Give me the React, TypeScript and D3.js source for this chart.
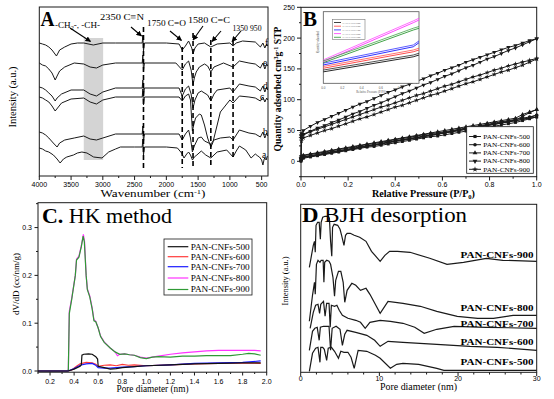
import React from 'react';
import * as d3 from 'd3';

const SERIF = '"Liberation Serif","Times New Roman",serif';
const SANS = '"Liberation Sans",Arial,sans-serif';
const INK = '#1a1a1a';

// ---------------- Panel A : FTIR ----------------
const ftirNames = ['a', 'b', 'c', 'd', 'e', 'f'];
const ftirXTicks = [4000, 3500, 3000, 2500, 2000, 1500, 1000, 500];
const ftirPeaks = [2360, 1750, 1580, 1300, 950];
const ftirA = [[4000,28],[3950,27],[3900,25],[3850,24],[3778,21],[3720,17],[3672,13],[3620,17],[3567,19],[3462,21],[3400,23],[3330,24],[3250,23],[3145,19],[3013,18],[2908,24],[2800,27],[2723,29],[2500,29],[2380,29],[2370,37],[2360,21],[2345,29],[2000,29],[1826,28],[1760,23],[1722,18],[1680,22],[1650,24],[1620,21],[1589,16],[1560,19],[1520,21],[1450,25],[1380,21],[1300,18],[1200,24],[1050,26],[950,19],[900,25],[850,30],[750,26],[666,18],[600,22],[560,20],[535,19],[500,16],[480,11],[460,17],[450,18],[429,16],[410,20]];
const ftirB = [[4000,44],[3950,43],[3900,41],[3850,38],[3780,33],[3720,29],[3680,33],[3600,36],[3450,38],[3300,40],[3200,37],[3100,36],[3000,38],[2800,42],[2380,42],[2370,50],[2360,34],[2345,42],[1800,42],[1750,36],[1700,42],[1650,46],[1620,38],[1590,24],[1560,30],[1500,38],[1450,39],[1400,35],[1300,32],[1250,36],[1150,38],[1000,39],[950,36],[850,46],[700,43],[600,42],[520,39],[480,44],[450,38],[420,43],[405,40]];
const ftirC = [[4000,79],[3950,78],[3900,76],[3850,74],[3800,70],[3750,65],[3700,69],[3650,73],[3500,77],[3300,78],[3200,74],[3100,72],[3000,76],[2800,79],[2380,79],[2370,87],[2360,71],[2345,79],[1800,79],[1750,75],[1700,80],[1650,82],[1620,76],[1590,45],[1570,51],[1540,58],[1480,62],[1450,61],[1400,51],[1350,38],[1300,29],[1270,33],[1200,51],[1150,64],[1050,72],[1000,76],[950,73],[850,80],[700,79],[600,78],[520,75],[480,79],[450,74],[420,78],[405,76]];
const ftirD = [[4000,89],[3950,88],[3900,86],[3850,83],[3800,80],[3750,75],[3720,78],[3650,82],[3500,86],[3300,86],[3200,82],[3100,80],[3000,84],[2800,88],[2380,88],[2370,96],[2360,80],[2345,88],[1800,88],[1750,80],[1700,87],[1650,90],[1610,82],[1580,68],[1550,76],[1500,83],[1450,85],[1350,81],[1300,75],[1250,82],[1200,86],[1000,88],[950,84],[850,92],[700,90],[600,89],[520,85],[480,90],[450,84],[420,89],[405,86]];
const ftirE = [[4000,113],[3950,111],[3900,110],[3850,107],[3800,103],[3750,96],[3720,100],[3680,105],[3600,109],[3450,113],[3300,112],[3200,109],[3100,108],[3000,111],[2800,113],[2380,113],[2370,121],[2360,105],[2345,113],[1850,113],[1750,106],[1700,112],[1650,115],[1610,106],[1580,91],[1560,98],[1530,104],[1480,109],[1400,112],[1350,110],[1300,104],[1250,109],[1100,113],[950,109],[850,115],[700,113],[600,112],[520,108],[480,113],[450,107],[420,112],[405,110]];
const ftirF = [[4000,133],[3950,132],[3900,131],[3850,129],[3800,126],[3730,120],[3680,126],[3600,129],[3500,132],[3400,133],[3300,133],[3150,131],[3000,133],[2800,133],[2380,133],[2370,141],[2360,125],[2345,133],[2000,133],[1800,132],[1750,126],[1700,130],[1650,135],[1600,128],[1580,122],[1550,128],[1500,132],[1400,133],[1300,129],[1200,132],[1000,133],[950,130],[900,133],[800,135],[600,134],[520,129],[480,133],[450,128],[420,132],[405,130]];

// ---------------- Panel B : N2 isotherms ----------------
const bNames = ['PAN-CNFs-500', 'PAN-CNFs-600', 'PAN-CNFs-700', 'PAN-CNFs-800', 'PAN-CNFs-900'];
const bP = [0, 0.002, 0.01, 0.04, 0.07, 0.1, 0.13, 0.16, 0.19, 0.22, 0.25, 0.28, 0.31, 0.34, 0.37, 0.4, 0.43, 0.46, 0.49, 0.52, 0.55, 0.58, 0.61, 0.64, 0.67, 0.7, 0.73, 0.76, 0.79, 0.82, 0.85, 0.88, 0.91, 0.94, 0.97, 1.0];
const b500Ads = [0, 3, 5, 7, 9, 11, 13, 15, 17, 19, 21, 23, 24, 26, 28, 30, 32, 34, 36, 38, 40, 41, 43, 45, 47, 49, 51, 53, 55, 57, 59, 61, 63, 66, 69, 72];
const b500Des = [4, 5, 7, 9, 11, 13, 15, 17, 19, 21, 23, 25, 27, 29, 31, 33, 35, 37, 38, 40, 42, 44, 46, 48, 50, 52, 54, 56, 58, 60, 62, 64, 66, 68, 70, 72];
const b600Ads = [1, 4, 6, 8, 10, 12, 14, 16, 18, 20, 22, 24, 26, 28, 30, 32, 34, 36, 38, 40, 42, 44, 46, 48, 50, 52, 54, 56, 58, 60, 62, 64, 66, 68, 71, 75];
const b600Des = [5, 7, 9, 11, 13, 15, 17, 19, 21, 23, 25, 27, 29, 31, 33, 35, 37, 39, 41, 43, 45, 46, 48, 50, 52, 54, 56, 58, 60, 62, 64, 66, 68, 70, 72, 75];
const b700Ads = [2, 5, 7, 9, 11, 13, 15, 17, 19, 21, 23, 25, 27, 29, 31, 33, 35, 37, 39, 41, 43, 45, 47, 49, 51, 53, 55, 57, 59, 61, 63, 65, 67, 73, 79, 84];
const b700Des = [6, 8, 10, 12, 14, 16, 18, 20, 22, 24, 26, 28, 30, 32, 34, 36, 38, 40, 42, 44, 46, 48, 50, 52, 54, 56, 58, 60, 62, 64, 66, 68, 70, 76, 80, 84];
const b800Ads = [8, 38, 44, 49, 54, 58, 63, 67, 72, 77, 81, 86, 91, 95, 100, 105, 110, 114, 119, 124, 128, 133, 138, 142, 147, 152, 156, 161, 166, 170, 175, 180, 184, 189, 194, 199];
const b800Des = [42, 45, 50, 57, 63, 68, 73, 78, 83, 88, 93, 97, 102, 107, 112, 116, 121, 125, 130, 134, 139, 143, 148, 152, 156, 161, 165, 169, 173, 177, 181, 185, 188, 192, 196, 199];
const b900Ads = [5, 33, 38, 42, 46, 50, 53, 57, 61, 65, 69, 72, 76, 80, 84, 88, 91, 95, 99, 103, 107, 110, 114, 118, 122, 126, 129, 133, 137, 141, 145, 148, 152, 156, 161, 166];
const b900Des = [38, 41, 43, 48, 52, 56, 60, 64, 68, 72, 76, 80, 84, 88, 91, 95, 99, 103, 107, 110, 114, 118, 122, 125, 129, 133, 137, 140, 144, 148, 151, 155, 158, 161, 164, 167];
const bXTicks = [0, 0.2, 0.4, 0.6, 0.8, 1.0];
const bYTicks = [0, 50, 100, 150, 200, 250];
// inset (coloured, zoomed isotherms)
const insetP = [0, 0.94, 1.0];
const inset500 = [16, 37, 39.5];
const inset600 = [21, 44, 46.5];
const inset700 = [25.6, 51, 56.7];
const inset800 = [30.2, 84.6, 88.4];
const inset900 = [28.8, 74.4, 76.8];
const insetXTicks = [0, 0.2, 0.4, 0.6, 0.8];

// ---------------- Panel C : HK method ----------------
const hkNames = ['PAN-CNFs-500', 'PAN-CNFs-600', 'PAN-CNFs-700', 'PAN-CNFs-800', 'PAN-CNFs-900'];
const hkColors = ['#111111', '#ff3a3a', '#1a1aff', '#ff33ff', '#2f9a35'];
const hk500 = [[0.1,0],[0.35,0],[0.4,0.004],[0.45,0.01],[0.46,0.013],[0.465,0.033],[0.48,0.035],[0.52,0.036],[0.55,0.035],[0.58,0.03],[0.595,0.025],[0.6,0.01],[0.65,0.007],[0.7,0.004],[0.75,0.005],[0.8,0.007],[0.9,0.009],[1.0,0.011],[1.2,0.013],[1.4,0.015],[1.6,0.016],[1.8,0.017],[1.95,0.017]];
const hk600 = [[0.1,0],[0.35,0],[0.38,0.002],[0.42,0.01],[0.45,0.015],[0.5,0.018],[0.55,0.017],[0.58,0.014],[0.6,0.01],[0.65,0.012],[0.7,0.013],[0.75,0.011],[0.8,0.014],[0.85,0.012],[0.9,0.013],[1.0,0.011],[1.2,0.013],[1.4,0.015],[1.6,0.016],[1.8,0.017],[1.95,0.016]];
const hk700 = [[0.1,0],[0.35,0],[0.4,0.005],[0.45,0.012],[0.5,0.015],[0.55,0.016],[0.58,0.012],[0.6,0.007],[0.65,0.006],[0.7,0.006],[0.8,0.008],[0.9,0.009],[1.0,0.011],[1.2,0.013],[1.4,0.016],[1.6,0.017],[1.8,0.018],[1.95,0.021]];
const hk800 = [[0.1,0],[0.34,0],[0.352,0.002],[0.36,0.125],[0.38,0.152],[0.41,0.2],[0.42,0.234],[0.44,0.24],[0.46,0.262],[0.477,0.286],[0.487,0.27],[0.5,0.2],[0.51,0.172],[0.53,0.157],[0.55,0.132],[0.565,0.107],[0.58,0.104],[0.6,0.09],[0.62,0.073],[0.65,0.061],[0.7,0.048],[0.74,0.04],[0.76,0.032],[0.78,0.035],[0.82,0.036],[0.86,0.034],[0.9,0.033],[0.95,0.029],[1.0,0.027],[1.1,0.031],[1.2,0.035],[1.3,0.038],[1.4,0.04],[1.5,0.042],[1.6,0.043],[1.7,0.043],[1.8,0.043],[1.9,0.043],[1.95,0.042]];
const hk900 = [[0.1,0],[0.34,0],[0.352,0.002],[0.36,0.12],[0.38,0.15],[0.41,0.2],[0.42,0.232],[0.44,0.238],[0.46,0.26],[0.475,0.282],[0.485,0.27],[0.5,0.2],[0.51,0.17],[0.53,0.155],[0.55,0.13],[0.565,0.105],[0.58,0.103],[0.6,0.09],[0.62,0.072],[0.65,0.06],[0.7,0.048],[0.74,0.04],[0.78,0.035],[0.82,0.036],[0.86,0.034],[0.9,0.033],[0.95,0.028],[1.0,0.026],[1.05,0.029],[1.1,0.03],[1.2,0.029],[1.3,0.031],[1.4,0.031],[1.5,0.032],[1.6,0.032],[1.7,0.032],[1.8,0.035],[1.85,0.037],[1.9,0.036],[1.95,0.033]];
const hkXTicks = [0.2, 0.4, 0.6, 0.8, 1.0, 1.2, 1.4, 1.6, 1.8, 2.0];
const hkYTicks = [0.0, 0.1, 0.2, 0.3];

// ---------------- Panel D : BJH desorption ----------------
const bjhNames = ['PAN-CNFs-500', 'PAN-CNFs-600', 'PAN-CNFs-700', 'PAN-CNFs-800', 'PAN-CNFs-900'];
const bjh500 = [[1.1,1],[1.5,19],[1.9,24],[2.2,25],[2.45,10],[2.55,25],[2.8,25],[3.0,23],[3.3,12],[3.5,24],[3.9,25],[4.3,21],[4.8,14],[5.1,21],[5.5,20],[6.0,20],[6.4,15],[6.8,4],[7.3,22],[8.4,21],[9.5,17],[10.1,14],[11.4,4],[12.2,8],[13,9],[15,8],[17.3,4],[18.2,2],[30,2]];
const bjh600 = [[1.1,22],[1.5,41],[1.8,44],[2.1,45],[2.35,32],[2.5,45],[2.9,46],[3.3,46],[3.6,46],[3.8,22],[4.0,44],[4.5,46],[5.0,43],[5.3,27],[5.6,38],[5.9,42],[7.0,40],[8.4,37],[9.4,32],[10.1,26],[11.1,31],[13,30],[17.3,28],[21.5,26],[25,25],[30,22]];
const bjh700 = [[1.2,44],[1.6,60],[1.9,67],[2.2,68],[2.4,59],[2.55,68],[2.9,71],[3.1,56],[3.3,69],[3.6,69],[3.75,45],[3.9,67],[4.3,66],[4.6,67],[4.9,62],[5.3,57],[6,54],[7,52],[7.6,50],[8.2,44],[8.8,50],[10.1,52],[11.4,51],[13,49],[14.5,45],[15.7,39],[17.3,43],[19.5,46],[23.6,45],[30,44]];
const bjh800 = [[1.1,51],[1.5,77],[1.75,90],[1.85,78],[2.0,108],[2.2,112],[2.45,110],[2.6,112],[2.85,112],[2.95,90],[3.05,110],[3.3,112],[3.6,111],[3.8,108],[4.1,95],[4.3,76],[4.45,92],[4.8,101],[5.1,101],[5.4,90],[5.6,70],[5.9,82],[6.5,89],[7.0,87],[7.6,82],[8.3,84],[8.8,78],[10.1,59],[11.1,71],[13,69],[15.2,66],[17.3,61],[19.9,56],[22.5,54],[24.5,54],[27,57],[30,57]];
const bjh900 = [[1.1,105],[1.6,127],[1.75,131],[1.85,120],[1.95,147],[2.15,150],[2.35,150],[2.5,133],[2.6,150],[2.8,155],[3.1,156],[3.5,156],[3.65,154],[3.8,131],[3.95,116],[4.05,145],[4.25,148],[4.7,147],[5.0,143],[5.2,137],[5.5,127],[5.7,137],[5.9,139],[6.3,139],[6.8,137],[7.5,135],[8.3,131],[9.0,121],[10.1,111],[10.7,117],[11.3,121],[12.3,121],[13.9,120],[16.4,114],[18.6,108],[20.7,110],[23.6,114],[25.7,112],[30,111]];
const bjhXTicks = [0, 10, 20, 30];

type Pt = number[];

function Frame({ x0, y0, x1, y1 }: { x0: number; y0: number; y1: number; x1: number }) {
  return <rect x={x0} y={y0} width={x1 - x0} height={y1 - y0} fill="none" stroke={INK} strokeWidth={1} />;
}

function PanelA() {
  const x = d3.scaleLinear().domain([4000, 400]).range([39.3, 268]);
  const y = d3.scaleLinear().domain([0, 169]).range([176, 7]);
  const line = d3.line<Pt>().x(d => x(d[0])).y(d => y(d[1]));
  const curves = [ftirA, ftirB, ftirC, ftirD, ftirE, ftirF];
  const labelY = [158, 135, 100, 89, 66, 46];
  const labelX = [262, 263, 260, 263, 263, 265];
  const minor = d3.range(4000, 400, -250);
  const dashTop = [27, 47, 33, 40, 40];
  const dashBot = [168, 168, 166, 166, 158];
  const arrows = [[70, 28, 90.5, 41.5], [131, 27, 141.5, 36], [170, 31, 181.5, 40.5], [203, 26, 193, 40], [221, 31, 212, 41.5], [241, 31, 232, 41.5]];
  return (
    <g>
      <rect x={x(3300)} y={38} width={x(2995) - x(3300)} height={122} fill="#d4d4d4" />
      {curves.map((c, i) => <path key={i} d={line(c as Pt[]) || ''} fill="none" stroke={INK} strokeWidth={1} />)}
      {ftirPeaks.map((p, i) => <line key={p} x1={x(p)} x2={x(p)} y1={dashTop[i]} y2={dashBot[i]} stroke="#000" strokeWidth={1.6} strokeDasharray="5,3" />)}
      {arrows.map((a, i) => <line key={i} x1={a[0]} y1={a[1]} x2={a[2]} y2={a[3]} stroke="#000" strokeWidth={1.1} markerEnd="url(#arr)" />)}
      {ftirNames.map((n, i) => <text key={n} x={labelX[i]} y={labelY[i]} fontFamily={SERIF} fontSize={9.5}>{n}</text>)}
      <Frame x0={39.3} y0={7} x1={268} y1={176} />
      {minor.map(t => <line key={t} x1={x(t)} x2={x(t)} y1={176} y2={t % 500 === 0 ? 180 : 178} stroke={INK} />)}
      {ftirXTicks.map(t => <text key={t} x={x(t)} y={186.5} textAnchor="middle" fontFamily={SANS} fontSize={7}>{t}</text>)}
      <text x={153} y={196.5} textAnchor="middle" fontFamily={SERIF} fontSize={10} textLength={105} lengthAdjust="spacingAndGlyphs">Wavenumber (cm<tspan dy={-3} fontSize={6.5}>-1</tspan><tspan dy={3}>)</tspan></text>
      <text transform="translate(16,97) rotate(-90)" textAnchor="middle" fontFamily={SERIF} fontSize={9.5} textLength={61} lengthAdjust="spacingAndGlyphs">Intensity (a.u.)</text>
      <text x={40.5} y={26} fontFamily={SERIF} fontWeight="bold" fontSize={21} textLength={14} lengthAdjust="spacingAndGlyphs">A</text>
      <text x={55} y={28} fontFamily={SERIF} fontSize={8} textLength={45} lengthAdjust="spacingAndGlyphs">-CH<tspan dy={2} fontSize={5.5}>2</tspan><tspan dy={-2}>-, -CH-</tspan></text>
      <text x={100} y={20} fontFamily={SERIF} fontSize={8.5} textLength={44} lengthAdjust="spacingAndGlyphs">2350 C≡N</text>
      <text x={147} y={26} fontFamily={SERIF} fontSize={8.5} textLength={39} lengthAdjust="spacingAndGlyphs">1750 C=O</text>
      <text x={188} y={22.5} fontFamily={SERIF} fontSize={8.5} textLength={42} lengthAdjust="spacingAndGlyphs">1580 C=C</text>
      <text x={232.5} y={31} fontFamily={SERIF} fontSize={8} textLength={29} lengthAdjust="spacingAndGlyphs">1350 950</text>
    </g>
  );
}

function symbolPath(i: number, size: number) {
  const types = [d3.symbolSquare, d3.symbolCircle, d3.symbolTriangle, d3.symbolTriangle, d3.symbolStar];
  return d3.symbol().type(types[i]).size(size)() || '';
}

function PanelB() {
  const x = d3.scaleLinear().domain([0, 1]).range([301, 536.7]);
  const y = d3.scaleLinear().domain([-25, 250]).range([176.7, 7.3]);
  const series = [[b500Ads, b500Des], [b600Ads, b600Des], [b700Ads, b700Des], [b800Ads, b800Des], [b900Ads, b900Des]];
  const line = d3.line<number>().x((_, i) => x(bP[i])).y(d => y(d));
  const xMinor = d3.range(0, 1.0001, 0.1);
  const yMinor = d3.range(-25, 250.1, 25);
  // inset
  const ix = d3.scaleLinear().domain([0, 1]).range([323.3, 419]);
  const iy = d3.scaleLinear().domain([0, 100]).range([83.3, 11.7]);
  const insetSeries = [inset500, inset600, inset700, inset800, inset900];
  const iline = d3.line<number>().x((_, i) => ix(insetP[i])).y(d => iy(d));
  const lgY = d3.range(5).map(i => 136.5 + i * 8.2);
  return (
    <g>
      <Frame x0={301} y0={7.3} x1={536.7} y1={176.7} />
      {series.map((s, i) => (
        <g key={i}>
          {s.map((arr, j) => (
            <g key={j}>
              <path d={line(arr) || ''} fill="none" stroke={INK} strokeWidth={1} />
              {arr.map((v, k) => (
                <path key={k} d={symbolPath(i, i === 1 ? 9 : 8)} transform={`translate(${x(bP[k])},${y(v)})${i === 3 ? ' rotate(180)' : ''}`} fill={INK} />
              ))}
            </g>
          ))}
        </g>
      ))}
      {xMinor.map((t, i) => <line key={i} x1={x(t)} x2={x(t)} y1={176.7} y2={i % 2 === 0 ? 180.5 : 178.7} stroke={INK} />)}
      {yMinor.map((t, i) => <line key={i} x1={301} x2={i % 2 === 1 ? 297 : 299} y1={y(t)} y2={y(t)} stroke={INK} />)}
      {bXTicks.map(t => <text key={t} x={x(t)} y={186.5} textAnchor="middle" fontFamily={SANS} fontSize={7}>{t.toFixed(1)}</text>)}
      {bYTicks.map(t => <text key={t} x={295} y={y(t) + 2.5} textAnchor="end" fontFamily={SANS} fontSize={7}>{t}</text>)}
      <text x={423.5} y={196.5} textAnchor="middle" fontFamily={SERIF} fontSize={10} fontWeight="bold" textLength={103} lengthAdjust="spacingAndGlyphs">Relative Pressure (P/P<tspan dy={2} fontSize={6.5}>0</tspan><tspan dy={-2}>)</tspan></text>
      <text transform="translate(280.5,89) rotate(-90)" textAnchor="middle" fontFamily={SERIF} fontSize={9.5} fontWeight="bold" textLength={125} lengthAdjust="spacingAndGlyphs">Quantity adsorbed cm<tspan dy={-3} fontSize={6}>3</tspan><tspan dy={3}>g</tspan><tspan dy={-3} fontSize={6}>-1</tspan><tspan dy={3}> STP</tspan></text>
      <text x={303} y={26} fontFamily={SERIF} fontWeight="bold" fontSize={21} textLength={14} lengthAdjust="spacingAndGlyphs">B</text>
      {/* legend */}
      <rect x={466.7} y={126.7} width={66.6} height={46.6} fill="#fff" stroke={INK} strokeWidth={0.8} />
      {bNames.map((n, i) => (
        <g key={n}>
          <line x1={469} x2={481} y1={lgY[i]} y2={lgY[i]} stroke={INK} />
          <path d={symbolPath(i, 10)} transform={`translate(475,${lgY[i]})${i === 3 ? ' rotate(180)' : ''}`} fill={INK} />
          <text x={483.3} y={lgY[i] + 2.2} fontFamily={SERIF} fontSize={6.3} textLength={46.7} lengthAdjust="spacingAndGlyphs">{n}</text>
        </g>
      ))}
      {/* inset */}
      <rect x={323.3} y={11.7} width={95.7} height={71.6} fill="#fff" stroke="#555" strokeWidth={0.8} />
      {insetSeries.map((s, i) => (
        <g key={i}>
          <path d={iline(s) || ''} fill="none" stroke={hkColors[i]} strokeWidth={0.9} />
          <path d={iline(s.map(v => v + 2.5)) || ''} fill="none" stroke={hkColors[i]} strokeWidth={0.9} opacity={0.8} />
        </g>
      ))}
      {insetXTicks.map(t => <text key={t} x={ix(t)} y={88.5} textAnchor="middle" fontFamily={SANS} fontSize={3} fill="#555">{t.toFixed(1)}</text>)}
      <text x={371} y={92.5} textAnchor="middle" fontFamily={SERIF} fontSize={3} fill="#555">Relative Pressure (P/P0)</text>
      <text transform="translate(319,42) rotate(-90)" textAnchor="middle" fontFamily={SERIF} fontSize={3} fill="#555">Quantity adsorbed</text>
      <rect x={332.3} y={19.3} width={32.7} height={20} fill="#fff" stroke="#777" strokeWidth={0.6} />
      {bNames.map((n, i) => (
        <g key={n}>
          <line x1={334} x2={341} y1={22.5 + i * 3.7} y2={22.5 + i * 3.7} stroke={hkColors[i]} strokeWidth={0.8} />
          <text x={342.5} y={23.5 + i * 3.7} fontFamily={SERIF} fontSize={2.8} fill="#666">{n}</text>
        </g>
      ))}
    </g>
  );
}

function PanelC() {
  const x = d3.scaleLinear().domain([0.1, 2.0]).range([38, 266.7]);
  const y = d3.scaleLinear().domain([-0.0025, 0.352]).range([372.2, 202.7]);
  const line = d3.line<Pt>().x(d => x(d[0])).y(d => y(d[1]));
  const data = [hk500, hk600, hk700, hk800, hk900];
  const drawOrder = [3, 4, 1, 2, 0];
  const xMinor = d3.range(0.1, 2.0001, 0.1);
  const yMinor = d3.range(0, 0.3501, 0.05);
  const lgY = [246.7, 256.7, 266.7, 278, 289.5];
  return (
    <g>
      {drawOrder.map(i => <path key={i} d={line(data[i] as Pt[]) || ''} fill="none" stroke={hkColors[i]} strokeWidth={1.2} />)}
      <Frame x0={38} y0={202.7} x1={266.7} y1={372.2} />
      {xMinor.map((t, i) => <line key={i} x1={x(t)} x2={x(t)} y1={372.2} y2={i % 2 === 1 ? 375.5 : 374} stroke={INK} />)}
      {yMinor.map((t, i) => <line key={i} x1={38} x2={i % 2 === 0 ? 34.5 : 36} y1={y(t)} y2={y(t)} stroke={INK} />)}
      {hkXTicks.map(t => <text key={t} x={x(t)} y={383.5} textAnchor="middle" fontFamily={SANS} fontSize={7}>{t.toFixed(1)}</text>)}
      {hkYTicks.map(t => <text key={t} x={32} y={y(t) + 2.5} textAnchor="end" fontFamily={SANS} fontSize={7}>{t.toFixed(1)}</text>)}
      <text x={152.5} y={391.5} textAnchor="middle" fontFamily={SERIF} fontSize={9.5} textLength={72} lengthAdjust="spacingAndGlyphs">Pore diameter (nm)</text>
      <text transform="translate(19,284) rotate(-90)" textAnchor="middle" fontFamily={SERIF} fontSize={8.5} textLength={62} lengthAdjust="spacingAndGlyphs">dV/dD (cc/nm/g)</text>
      <text x={42} y={222.5} fontFamily={SERIF} fontSize={21} textLength={130} lengthAdjust="spacingAndGlyphs"><tspan fontWeight="bold">C.</tspan> HK method</text>
      <rect x={164} y={239} width={88} height={56} fill="#fff" stroke={INK} strokeWidth={0.8} />
      {hkNames.map((n, i) => (
        <g key={n}>
          <line x1={167.7} x2={188.3} y1={lgY[i]} y2={lgY[i]} stroke={hkColors[i]} strokeWidth={1.2} />
          <text x={190.7} y={lgY[i] + 2.8} fontFamily={SERIF} fontSize={8} textLength={59} lengthAdjust="spacingAndGlyphs">{n}</text>
        </g>
      ))}
    </g>
  );
}

function PanelD() {
  const x = d3.scaleLinear().domain([0, 30]).range([300.7, 536.7]);
  const y = d3.scaleLinear().domain([0, 168]).range([372.3, 204.3]);
  const line = d3.line<Pt>().x(d => x(d[0])).y(d => y(d[1]));
  const data = [bjh500, bjh600, bjh700, bjh800, bjh900];
  const labelY = [364.5, 344.5, 326.5, 311, 258];
  const minor = d3.range(0, 30.01, 2);
  return (
    <g>
      {data.map((d, i) => <path key={i} d={line(d as Pt[]) || ''} fill="none" stroke={INK} strokeWidth={1.2} />)}
      <Frame x0={300.7} y0={204.3} x1={536.7} y1={372.3} />
      {minor.map(t => <line key={t} x1={x(t)} x2={x(t)} y1={372.3} y2={t % 10 === 0 ? 376 : 374.5} stroke={INK} />)}
      {bjhXTicks.map(t => <text key={t} x={x(t)} y={381} textAnchor="middle" fontFamily={SANS} fontSize={7}>{t}</text>)}
      <text x={418.5} y={390} textAnchor="middle" fontFamily={SERIF} fontSize={9.5} textLength={77} lengthAdjust="spacingAndGlyphs">Pore diameter (nm)</text>
      <text transform="translate(288,281) rotate(-90)" textAnchor="middle" fontFamily={SERIF} fontSize={8.5} textLength={49} lengthAdjust="spacingAndGlyphs">Intensity (a.u.)</text>
      <text x={302} y={222} fontFamily={SERIF} fontSize={21} textLength={165} lengthAdjust="spacingAndGlyphs"><tspan fontWeight="bold">D</tspan> BJH desorption</text>
      {bjhNames.map((n, i) => <text key={n} x={533.5} y={labelY[i]} textAnchor="end" fontFamily={SERIF} fontWeight="bold" fontSize={8.5} textLength={73} lengthAdjust="spacingAndGlyphs">{n}</text>)}
    </g>
  );
}

export default function App() {
  return (
    <svg width={554} height={399} viewBox="0 0 554 399" style={{ position: 'absolute', left: 0, top: 0, background: '#fff' }}>
      <defs>
        <marker id="arr" viewBox="0 0 10 10" refX={9} refY={5} markerWidth={5} markerHeight={5} orient="auto">
          <path d="M0,0 L10,5 L0,10 z" fill="#000" />
        </marker>
      </defs>
      <rect width={554} height={399} fill="#fff" />
      <PanelA />
      <PanelB />
      <PanelC />
      <PanelD />
    </svg>
  );
}
